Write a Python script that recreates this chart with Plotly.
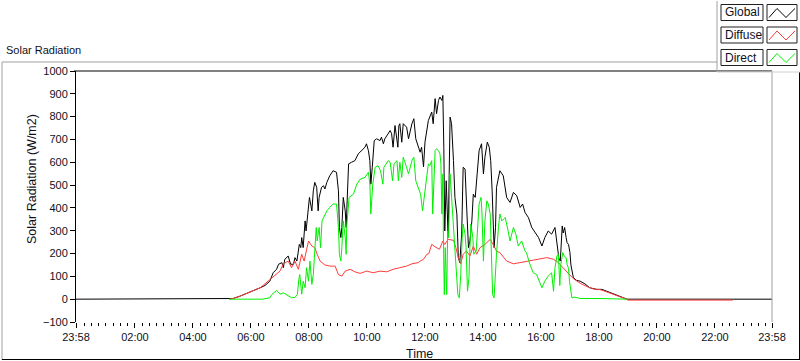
import plotly.graph_objects as go

# ---------------- data ----------------
# times are clock times of the day; "-00:02" means 23:58 of the previous day
global_times = ["-00:02", "05:15", "05:23", "05:37", "05:51", "06:05", "06:19", "06:29", "06:39", "06:46",
                "06:53", "06:57", "07:04", "07:07", "07:10", "07:17", "07:22", "07:28", "07:31", "07:35",
                "07:38", "07:40", "07:43", "07:45", "07:48", "07:52", "07:54", "07:57", "08:01", "08:06",
                "08:09", "08:12", "08:16", "08:19", "08:21", "08:26", "08:30", "08:33", "08:37", "08:43",
                "08:50", "08:57", "09:01", "09:03", "09:06", "09:08", "09:11", "09:15", "09:17", "09:19",
                "09:22", "09:28", "09:35", "09:42", "09:49", "09:56", "09:59", "10:03", "10:06", "10:08",
                "10:11", "10:15", "10:20", "10:27", "10:30", "10:34", "10:37", "10:41", "10:44", "10:48",
                "10:51", "10:54", "10:58", "11:02", "11:04", "11:06", "11:08", "11:12", "11:15", "11:22",
                "11:26", "11:33", "11:37", "11:41", "11:46", "11:50", "11:53", "11:57", "12:00", "12:07",
                "12:14", "12:17", "12:21", "12:24", "12:28", "12:31", "12:35", "12:37", "12:39", "12:41",
                "12:44", "12:46", "12:48", "12:52", "12:55", "12:59", "13:02", "13:06", "13:09", "13:12",
                "13:16", "13:19", "13:23", "13:26", "13:30", "13:33", "13:37", "13:40", "13:44", "13:48",
                "13:52", "13:57", "14:01", "14:04", "14:09", "14:13", "14:16", "14:19", "14:21", "14:23",
                "14:26", "14:28", "14:35", "14:42", "14:49", "14:56", "15:03", "15:10", "15:17", "15:22",
                "15:27", "15:34", "15:41", "15:48", "15:55", "16:02", "16:08", "16:15", "16:22", "16:29",
                "16:34", "16:37", "16:40", "16:42", "16:44", "16:46", "16:49", "16:52", "16:54", "16:57",
                "17:00", "17:02", "17:04", "17:07", "17:14", "17:21", "17:31", "17:41", "17:55", "18:06",
                "18:16", "18:30", "18:44", "18:54", "18:58", "23:58"]
global_values = [0, 0, 3, 13, 25, 35, 50, 60, 79, 116,
                 131, 153, 160, 138, 175, 189, 153, 153, 182, 167,
                 219, 240, 226, 270, 226, 343, 299, 358, 446, 387,
                 475, 512, 490, 387, 446, 490, 497, 483, 512, 541,
                 563, 556, 475, 314, 270, 314, 446, 387, 314, 431,
                 593, 600, 607, 637, 651, 666, 681, 651, 607, 504,
                 578, 695, 703, 695, 710, 681, 703, 717, 725, 739,
                 725, 666, 761, 700, 666, 761, 769, 688, 769, 754,
                 703, 769, 791, 703, 666, 644, 666, 580, 688, 783,
                 820, 769, 879, 813, 871, 886, 871, 893, 666, 299,
                 519, 373, 270, 798, 769, 607, 446, 373, 182, 160,
                 285, 578, 570, 417, 226, 255, 343, 460, 446, 549,
                 651, 681, 549, 622, 688, 666, 607, 475, 299, 226,
                 314, 490, 563, 541, 446, 424, 468, 453, 402, 417,
                 380, 358, 314, 292, 270, 233, 270, 299, 285, 314,
                 240, 180, 167, 250, 321, 290, 314, 270, 248, 240,
                 204, 150, 131, 94, 82, 79, 67, 50, 43, 43,
                 35, 23, 13, 3, 0, 0]

diffuse_times = ["05:15", "05:23", "05:37", "05:51", "06:05", "06:19", "06:26", "06:39", "06:50", "07:00",
                 "07:07", "07:17", "07:24", "07:31", "07:38", "07:45", "07:50", "07:59", "08:06", "08:12",
                 "08:17", "08:23", "08:33", "08:43", "08:54", "09:01", "09:08", "09:15", "09:25", "09:35",
                 "09:46", "09:59", "10:13", "10:27", "10:41", "10:54", "11:08", "11:22", "11:33", "11:46",
                 "11:50", "11:57", "12:04", "12:08", "12:14", "12:21", "12:30", "12:37", "12:41", "12:48",
                 "12:59", "13:04", "13:09", "13:14", "13:19", "13:26", "13:33", "13:40", "13:47", "13:54",
                 "14:04", "14:15", "14:21", "14:28", "14:35", "14:49", "15:03", "15:17", "15:37", "15:58",
                 "16:12", "16:26", "16:36", "16:46", "16:57", "17:07", "17:21", "17:35", "17:48", "18:02",
                 "18:16", "18:30", "18:44", "18:54", "19:00", "22:37"]
diffuse_values = [0, 3, 13, 25, 35, 50, 62, 85, 108, 123,
                  155, 167, 138, 167, 131, 197, 167, 255, 233, 226,
                  197, 167, 150, 145, 145, 108, 101, 123, 131, 120,
                  113, 123, 116, 123, 120, 131, 138, 145, 155, 160,
                  167, 175, 197, 200, 240, 229, 219, 255, 240, 262,
                  258, 226, 182, 155, 197, 211, 189, 233, 197, 226,
                  240, 262, 240, 211, 204, 167, 155, 160, 167, 175,
                  182, 175, 160, 137, 112, 90, 70, 55, 45, 42,
                  32, 20, 10, 3, -4, -4]

direct_times = ["05:15", "06:23", "06:39", "06:43", "06:53", "07:00", "07:07", "07:17", "07:24", "07:31",
                "07:36", "07:39", "07:41", "07:45", "07:48", "07:52", "07:55", "07:59", "08:02", "08:06",
                "08:09", "08:15", "08:17", "08:21", "08:24", "08:27", "08:31", "08:37", "08:43", "08:50",
                "08:57", "09:01", "09:03", "09:06", "09:08", "09:11", "09:15", "09:17", "09:18", "09:23",
                "09:32", "09:39", "09:46", "09:56", "10:03", "10:06", "10:08", "10:12", "10:17", "10:23",
                "10:28", "10:33", "10:35", "10:39", "10:44", "10:48", "10:53", "10:56", "11:02", "11:05",
                "11:08", "11:12", "11:15", "11:22", "11:26", "11:33", "11:37", "11:41", "11:46", "11:51",
                "11:55", "11:58", "12:02", "12:07", "12:10", "12:14", "12:16", "12:19", "12:21", "12:24",
                "12:28", "12:31", "12:33", "12:35", "12:37", "12:38", "12:40", "12:42", "12:45", "12:47",
                "12:49", "12:52", "12:55", "12:59", "13:02", "13:06", "13:08", "13:11", "13:14", "13:17",
                "13:19", "13:23", "13:25", "13:28", "13:31", "13:33", "13:35", "13:39", "13:41", "13:46",
                "13:48", "13:52", "13:56", "13:58", "14:01", "14:04", "14:08", "14:11", "14:15", "14:18",
                "14:20", "14:23", "14:26", "14:28", "14:32", "14:35", "14:39", "14:46", "14:52", "14:56",
                "15:03", "15:08", "15:13", "15:20", "15:27", "15:30", "15:37", "15:44", "15:51", "15:58",
                "16:02", "16:08", "16:15", "16:22", "16:26", "16:29", "16:33", "16:36", "16:39", "16:41",
                "16:45", "16:48", "16:52", "16:54", "16:57", "16:59", "17:02", "17:04", "17:10", "17:21",
                "18:02", "18:54", "18:58"]
direct_values = [0, 0, 6, 20, 38, 22, 28, 13, 6, 8,
                 20, 87, 108, 22, 79, 50, 138, 79, 167, 65,
                 108, 314, 255, 314, 226, 343, 358, 387, 402, 417,
                 417, 314, 197, 167, 226, 343, 270, 197, 314, 446,
                 460, 504, 526, 534, 556, 504, 373, 504, 578, 585,
                 563, 504, 578, 593, 607, 600, 519, 593, 607, 519,
                 600, 534, 622, 578, 549, 607, 622, 519, 490, 460,
                 387, 446, 519, 593, 585, 607, 373, 519, 651, 659,
                 651, 637, 593, 373, 549, 299, 20, 226, 20, 299,
                 270, 549, 446, 314, 255, 79, 20, 6, 108, 270,
                 329, 285, 226, 35, 94, 226, 329, 270, 197, 211,
                 299, 417, 446, 373, 167, 343, 431, 417, 373, 182,
                 20, 6, 138, 197, 314, 373, 343, 358, 299, 255,
                 314, 285, 233, 255, 211, 204, 153, 116, 108, 65,
                 50, 79, 101, 116, 35, 138, 189, 197, 60, 150,
                 204, 189, 182, 153, 135, 79, 35, 6, 9, 3,
                 3, 3, 0]

x_tick_times = ["-00:02", "02:00", "04:00", "06:00", "08:00", "10:00", "12:00",
                "14:00", "16:00", "18:00", "20:00", "22:00", "23:58"]
x_tick_labels = ["23:58", "02:00", "04:00", "06:00", "08:00", "10:00", "12:00",
                 "14:00", "16:00", "18:00", "20:00", "22:00", "23:58"]
y_range = [-100, 1000]
series_names = ["Global", "Diffuse", "Direct"]
series_colors = ["#000000", "#ff3c3c", "#00f000"]


def to_hours(s):
    if s.startswith("-"):
        return -to_hours(s[1:])
    h, m = s.split(":")
    return int(h) + int(m) / 60.0


# ---------------- figure ----------------
FONT = "Liberation Sans, Arial, sans-serif"
W, H = 800, 361
L, R, T, B = 76, 28, 71, 39
PW, PH = W - L - R, H - T - B


def px2x(px):
    return (px - L) / PW


def py2y(py):
    return (H - B - py) / PH


fig = go.Figure()
for name, times, vals, col in zip(series_names,
                                  [global_times, diffuse_times, direct_times],
                                  [global_values, diffuse_values, direct_values],
                                  series_colors):
    fig.add_trace(go.Scatter(x=[to_hours(t) for t in times], y=vals, mode="lines",
                             name=name, line=dict(color=col, width=1),
                             showlegend=False, hoverinfo="skip"))

shapes = []
gray = "#a0a0a0"
# plot area border: black top, gray right
shapes.append(dict(type="line", xref="paper", yref="paper", x0=px2x(74), x1=1, y0=1, y1=1,
                   line=dict(color="black", width=1)))
shapes.append(dict(type="line", xref="paper", yref="paper", x0=1, x1=1, y0=0, y1=1,
                   line=dict(color=gray, width=1)))
# outer frame
shapes.append(dict(type="line", xref="paper", yref="paper", x0=px2x(2), x1=px2x(717),
                   y0=py2y(62), y1=py2y(62), line=dict(color=gray, width=1)))
shapes.append(dict(type="line", xref="paper", yref="paper", x0=px2x(2), x1=px2x(2),
                   y0=py2y(62), y1=py2y(360), line=dict(color=gray, width=1)))
shapes.append(dict(type="line", xref="paper", yref="paper", x0=px2x(2), x1=px2x(799.5),
                   y0=py2y(359.5), y1=py2y(359.5), line=dict(color="black", width=1)))
shapes.append(dict(type="line", xref="paper", yref="paper", x0=px2x(799.5), x1=px2x(799.5),
                   y0=py2y(72), y1=py2y(360), line=dict(color="black", width=1)))
# legend panel
shapes.append(dict(type="line", xref="paper", yref="paper", x0=px2x(717), x1=px2x(717),
                   y0=py2y(1), y1=py2y(72), line=dict(color=gray, width=1)))
shapes.append(dict(type="line", xref="paper", yref="paper", x0=px2x(717), x1=px2x(800),
                   y0=py2y(72), y1=py2y(72), line=dict(color="#d0d0d0", width=1)))

annotations = []
for i, (name, col) in enumerate(zip(series_names, series_colors)):
    top = 4.5 + i * 22.5
    shapes.append(dict(type="rect", xref="paper", yref="paper", x0=px2x(721), x1=px2x(763),
                       y0=py2y(top), y1=py2y(top + 16), line=dict(color="#202020", width=1),
                       fillcolor="white"))
    shapes.append(dict(type="rect", xref="paper", yref="paper", x0=px2x(767), x1=px2x(797),
                       y0=py2y(top), y1=py2y(top + 16), line=dict(color="#202020", width=1),
                       fillcolor="white"))
    pts = [(769, top + 13), (777, top + 4), (786, top + 13), (795, top + 4)]
    path = "M " + " L ".join(f"{px2x(a):.5f},{py2y(b):.5f}" for a, b in pts)
    shapes.append(dict(type="path", xref="paper", yref="paper", path=path,
                       line=dict(color=col, width=1)))
    annotations.append(dict(text=name, xref="paper", yref="paper", x=px2x(723), y=py2y(top + 8),
                            xanchor="left", yanchor="middle", showarrow=False,
                            font=dict(family=FONT, size=12, color="#10101a")))

annotations.append(dict(text="Solar Radiation", xref="paper", yref="paper", x=px2x(4), y=py2y(50),
                        xanchor="left", yanchor="middle", showarrow=False,
                        font=dict(family=FONT, size=11, color="#10101a")))
annotations.append(dict(text="Solar Radiation (W/m2)", xref="paper", yref="paper", x=px2x(32),
                        y=py2y(179), textangle=-90, xanchor="center", yanchor="middle",
                        showarrow=False, font=dict(family=FONT, size=12.5, color="#10101a")))
annotations.append(dict(text="Time", xref="paper", yref="paper", x=px2x(419), y=py2y(354),
                        xanchor="center", yanchor="middle", showarrow=False,
                        font=dict(family=FONT, size=12.5, color="#10101a")))

fig.update_layout(
    width=W, height=H, autosize=False,
    margin=dict(l=L, r=R, t=T, b=B, pad=0),
    paper_bgcolor="white", plot_bgcolor="white",
    shapes=shapes, annotations=annotations,
    hovermode=False, dragmode=False,
    xaxis=dict(range=[to_hours("-00:02"), to_hours("23:58")],
               tickmode="array", tickvals=[to_hours(t) for t in x_tick_times], ticktext=x_tick_labels,
               ticks="outside", ticklen=5, tickwidth=1, tickcolor="black",
               showgrid=False, zeroline=False, showline=False, fixedrange=True,
               minor=dict(dtick=0.25, tick0=0, ticks="outside", ticklen=3, tickwidth=1,
                          tickcolor="black", showgrid=False),
               tickfont=dict(family=FONT, size=11, color="#10101a")),
    yaxis=dict(range=y_range, dtick=100, tick0=0, ticks="outside", ticklen=5, tickwidth=1,
               tickcolor="black", showgrid=False, zeroline=False, showline=True,
               linecolor="black", linewidth=1, fixedrange=True,
               tickfont=dict(family=FONT, size=11, color="#10101a")),
)

fig.write_html("out.html", config={"displayModeBar": False, "staticPlot": True},
               post_script="document.body.style.margin='0px';document.body.style.overflow='hidden';")
